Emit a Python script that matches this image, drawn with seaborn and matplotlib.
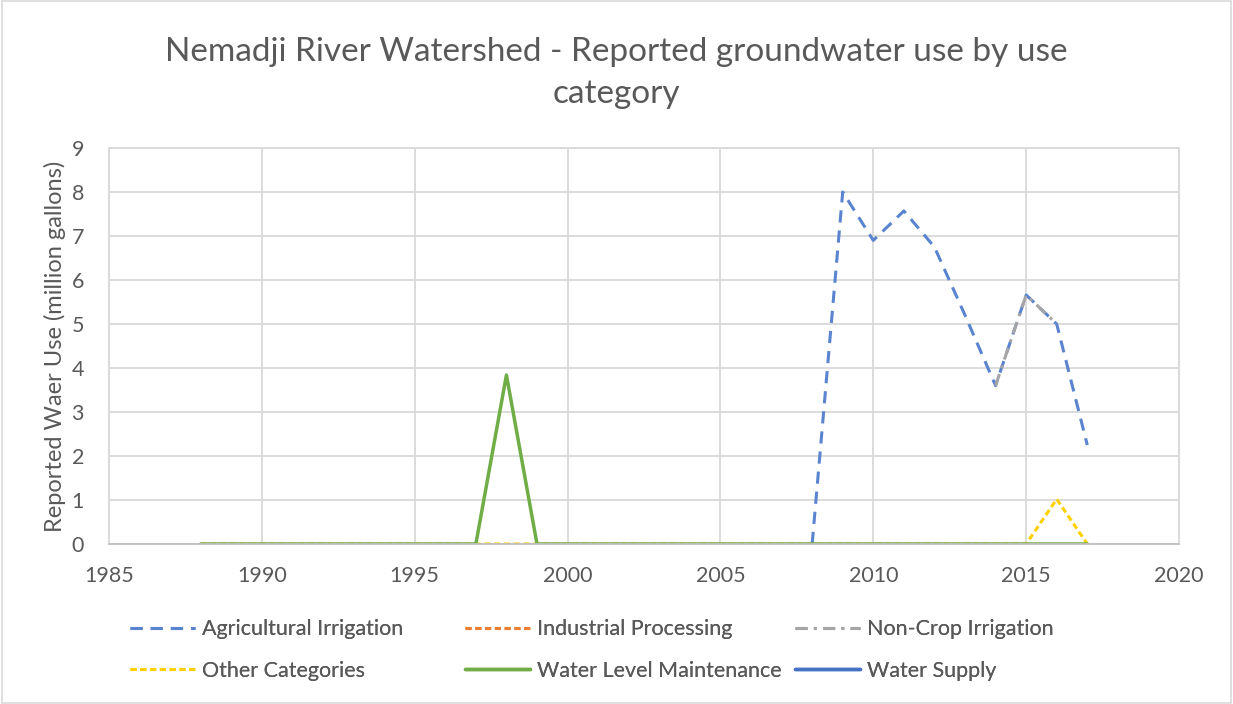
import numpy as np
import pandas as pd
import matplotlib
matplotlib.use("Agg")
import matplotlib.pyplot as plt
import seaborn as sns
from matplotlib.patches import Rectangle

years = list(range(1988, 2018))
nan = np.nan

# Values (million gallons)
agri_years = [2008, 2009, 2010, 2011, 2012, 2013, 2014, 2015, 2016, 2017]
agri_vals = [0, 8.0, 6.9, 7.57, 6.75, 5.2, 3.6, 5.66, 5.0, 2.25]
noncrop_years = [2014, 2015, 2016]
noncrop_vals = [3.6, 5.66, 5.0]
industrial_vals = [0.0] * len(years)
other_vals = [0.0] * len(years)
other_vals[years.index(2016)] = 1.02
wlm_vals = [0.0] * len(years)
wlm_vals[years.index(1998)] = 3.84
water_supply_vals = [nan] * len(years)

series_names = ["Agricultural Irrigation", "Industrial Processing", "Non-Crop Irrigation",
                "Other Categories", "Water Level Maintenance", "Water Supply"]
title = "Nemadji River Watershed - Reported groundwater use by use\ncategory"
ylabel = "Reported Waer Use (million gallons)"
xticks = [1985, 1990, 1995, 2000, 2005, 2010, 2015, 2020]
yticks = list(range(0, 10))

def to_series(yrs, vals):
    d = dict(zip(yrs, vals))
    return [d.get(y, nan) for y in years]

data = pd.DataFrame({
    "year": years,
    series_names[0]: to_series(agri_years, agri_vals),
    series_names[1]: industrial_vals,
    series_names[2]: to_series(noncrop_years, noncrop_vals),
    series_names[3]: other_vals,
    series_names[4]: wlm_vals,
    series_names[5]: water_supply_vals,
})

styles = {
    series_names[0]: dict(color="#5B84D0", dashes=(4, 2.6), lw=2.2),
    series_names[1]: dict(color="#ED7D31", dashes=(2, 1.2), lw=2.2),
    series_names[2]: dict(color="#A5A5A5", dashes=(4, 2, 1, 2), lw=2.2),
    series_names[3]: dict(color="#FFD000", dashes=(2, 1.2), lw=2.2),
    series_names[4]: dict(color="#70AD47", dashes=None, lw=2.5),
    series_names[5]: dict(color="#4472C4", dashes=None, lw=2.5),
}

sns.set_theme(style="white")
plt.rcParams['font.family'] = ['Lato', 'DejaVu Sans']
text_color = "#595959"

fig = plt.figure(figsize=(12.33, 7.04), dpi=100)
ax = fig.add_axes([109/1233, 1-544/704, (1179-109)/1233, (544-148)/704])

handles = {}
for name in series_names:
    st = styles[name]
    sub = data[["year", name]]
    sns.lineplot(data=sub, x="year", y=name, ax=ax, color=st["color"], linewidth=st["lw"],
                 label=name, legend=False)
    line = ax.lines[-1]
    if st["dashes"] is not None:
        line.set_dashes(st["dashes"])
    handles[name] = line

ax.set_xlim(1985, 2020)
ax.set_ylim(0, 9)
ax.set_xticks(xticks)
ax.set_yticks(yticks)
ax.grid(True, color="#D9D9D9", linewidth=1.3)
ax.set_axisbelow(True)
for s in ax.spines.values():
    s.set_color("#D9D9D9")
    s.set_linewidth(1.3)
ax.spines["bottom"].set_color("#BFBFBF")
ax.tick_params(axis="x", length=0, labelsize=15.5, colors=text_color, pad=16)
ax.tick_params(axis="y", length=0, labelsize=15.5, colors=text_color, pad=18)
ax.set_xlabel("")
ax.set_ylabel(ylabel, fontsize=17, color=text_color, labelpad=4)

fig.text(0.5, 1 - 73/704, title, ha="center", va="center", fontsize=24,
         color=text_color, linespacing=1.5)

# Legend: three equal-width columns, row-major order like the original
columns = [[series_names[0], series_names[3]],
           [series_names[1], series_names[4]],
           [series_names[2], series_names[5]]]
col_x = [130, 465, 795]
for names, x in zip(columns, col_x):
    leg = fig.legend(handles=[handles[n] for n in names], labels=names, ncol=1,
                     loc="center left", bbox_to_anchor=(x / 1233, 1 - 650/704),
                     frameon=False, fontsize=15.5, handlelength=3.0, borderpad=0,
                     borderaxespad=0, labelspacing=0.98, handletextpad=0.35)
    for t in leg.get_texts():
        t.set_color(text_color)
    fig.add_artist(leg)

fig.patches.append(Rectangle((0.002, 0.002), 0.996, 0.996, transform=fig.transFigure,
                             fill=False, edgecolor="#D9D9D9", linewidth=1.2))

fig.savefig("out.png", dpi=100)
